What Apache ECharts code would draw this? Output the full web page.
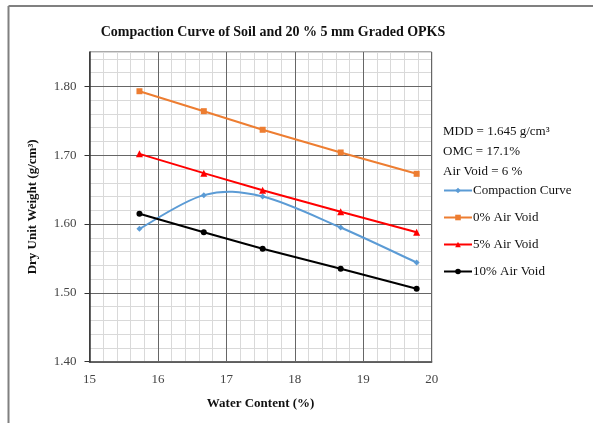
<!DOCTYPE html>
<html>
<head>
<meta charset="utf-8">
<script src="https://cdn.jsdelivr.net/npm/echarts@6/dist/echarts.min.js"></script>
<style>html,body{margin:0;padding:0;background:#fff;}#c{width:593px;height:423px;}</style>
</head>
<body>
<div id="c"></div>
<script>
var titleText = 'Compaction Curve of Soil and 20 % 5 mm Graded OPKS';
var xName = 'Water Content (%)';
var yName = 'Dry Unit Weight (g/cm³)';
var noteLines = ['MDD = 1.645 g/cm³', 'OMC = 17.1%', 'Air Void = 6 %'];
var seriesNames = ['Compaction Curve', '0% Air Void', '5% Air Void', '10% Air Void'];
var waterContent = [15.73, 16.67, 17.53, 18.67, 19.78];
var compaction = [1.593, 1.642, 1.640, 1.595, 1.544];
var airVoid0 = [1.793, 1.764, 1.737, 1.704, 1.673];
var airVoid5 = [1.702, 1.674, 1.649, 1.618, 1.588];
var airVoid10 = [1.615, 1.588, 1.564, 1.535, 1.506];
var yTicks = [1.40, 1.50, 1.60, 1.70, 1.80];
var xTicks = [15, 16, 17, 18, 19, 20];

function pairs(ys) { return waterContent.map(function (x, i) { return [x, ys[i]]; }); }

var serif = '"Liberation Serif", "DejaVu Serif", serif';
var blue = '#5B9BD5';

// Smooth (Excel-like) curve through the compaction points, drawn via the axis scales
function renderSmooth(params, api) {
  var i = params.dataIndex;
  var n = waterContent.length;
  if (i >= n - 1) return null;
  var P = function (k) {
    k = Math.max(0, Math.min(n - 1, k));
    return api.coord([waterContent[k], compaction[k]]);
  };
  var p0 = P(i - 1), p1 = P(i), p2 = P(i + 1), p3 = P(i + 2);
  var t = 1 / 6;
  var c1 = [p1[0] + (p2[0] - p0[0]) * t, p1[1] + (p2[1] - p0[1]) * t];
  var c2 = [p2[0] - (p3[0] - p1[0]) * t, p2[1] - (p3[1] - p1[1]) * t];
  return {
    type: 'bezierCurve',
    shape: { x1: p1[0], y1: p1[1], x2: p2[0], y2: p2[1], cpx1: c1[0], cpy1: c1[1], cpx2: c2[0], cpy2: c2[1] },
    style: { stroke: blue, lineWidth: 2, fill: null }
  };
}

var chart = echarts.init(document.getElementById('c'));
chart.setOption({
  animation: false,
  backgroundColor: '#fff',
  title: [{
    text: titleText, left: 268, top: 20, textAlign: 'center',
    textStyle: { fontFamily: serif, fontSize: 14, fontWeight: 'bold', color: '#111' }
  }, {
    text: noteLines.join('\n'), left: 438, top: 117,
    textStyle: { fontFamily: serif, fontSize: 13, fontWeight: 'normal', color: '#111', lineHeight: 20 }
  }],
  graphic: [
    { type: 'line', shape: { x1: 8.5, y1: 6, x2: 593, y2: 6 }, style: { stroke: '#808080', lineWidth: 2 } },
    { type: 'line', shape: { x1: 8.5, y1: 6, x2: 8.5, y2: 423 }, style: { stroke: '#808080', lineWidth: 2 } }
  ],
  legend: {
    orient: 'vertical', left: 438, top: 179, itemGap: 14, itemWidth: 28, itemHeight: 7,
    data: [
      { name: seriesNames[0], lineStyle: { opacity: 1, color: blue, width: 2 } },
      seriesNames[1], seriesNames[2], seriesNames[3]
    ],
    textStyle: { fontFamily: serif, fontSize: 13, color: '#111', padding: [0, 0, 0, -4] }
  },
  grid: { left: 89.5, right: 161.3, top: 52, bottom: 61.3, show: true, borderColor: '#555', borderWidth: 1 },
  xAxis: {
    type: 'value', min: 15, max: 20, interval: 1,
    name: xName, nameLocation: 'middle', nameGap: 35,
    nameTextStyle: { fontFamily: serif, fontSize: 13, fontWeight: 'bold', color: '#111' },
    axisLine: { lineStyle: { color: '#333', width: 1.5 } },
    axisTick: { show: false },
    axisLabel: { fontFamily: serif, fontSize: 13, color: '#444', margin: 11, customValues: xTicks },
    splitLine: { lineStyle: { color: '#666', width: 1 } },
    minorTick: { show: false, splitNumber: 5 },
    minorSplitLine: { show: true, lineStyle: { color: '#d9d9d9', width: 1 } }
  },
  yAxis: [{
    type: 'value', min: 1.4, max: 1.85, interval: 0.1, z: 2,
    name: yName, nameLocation: 'middle', nameGap: 50,
    nameTextStyle: { fontFamily: serif, fontSize: 13, fontWeight: 'bold', color: '#111' },
    axisLine: { show: true, lineStyle: { color: '#333', width: 1.5 } },
    axisTick: { show: true, inside: false, length: 5, lineStyle: { color: '#333' }, customValues: yTicks },
    axisLabel: { fontFamily: serif, fontSize: 13, color: '#444', margin: 13,
      customValues: yTicks, formatter: function (v) { return v.toFixed(2); } },
    splitLine: { lineStyle: { color: '#666', width: 1 } }
  }, {
    type: 'value', min: 1.4, max: 1.85, interval: 0.02, z: 0, position: 'left',
    axisLine: { show: false }, axisTick: { show: false }, axisLabel: { show: false },
    splitLine: { lineStyle: { color: '#d9d9d9', width: 1 } }
  }],
  series: [{
    name: seriesNames[0], type: 'line', data: pairs(compaction),
    symbol: 'diamond', symbolSize: 6, z: 4,
    itemStyle: { color: blue }, lineStyle: { color: blue, width: 2, opacity: 0 }
  }, {
    name: seriesNames[1], type: 'line', data: pairs(airVoid0),
    symbol: 'rect', symbolSize: 6, z: 3,
    itemStyle: { color: '#ED7D31' }, lineStyle: { color: '#ED7D31', width: 2 }
  }, {
    name: seriesNames[2], type: 'line', data: pairs(airVoid5),
    symbol: 'triangle', symbolSize: 7, z: 3,
    itemStyle: { color: '#FF0000' }, lineStyle: { color: '#FF0000', width: 2 }
  }, {
    name: seriesNames[3], type: 'line', data: pairs(airVoid10),
    symbol: 'circle', symbolSize: 6, z: 3,
    itemStyle: { color: '#000000' }, lineStyle: { color: '#000000', width: 2 }
  }, {
    name: seriesNames[0] + ' curve', type: 'custom', data: pairs(compaction), z: 3,
    renderItem: renderSmooth, silent: true
  }]
});
</script>
</body>
</html>
